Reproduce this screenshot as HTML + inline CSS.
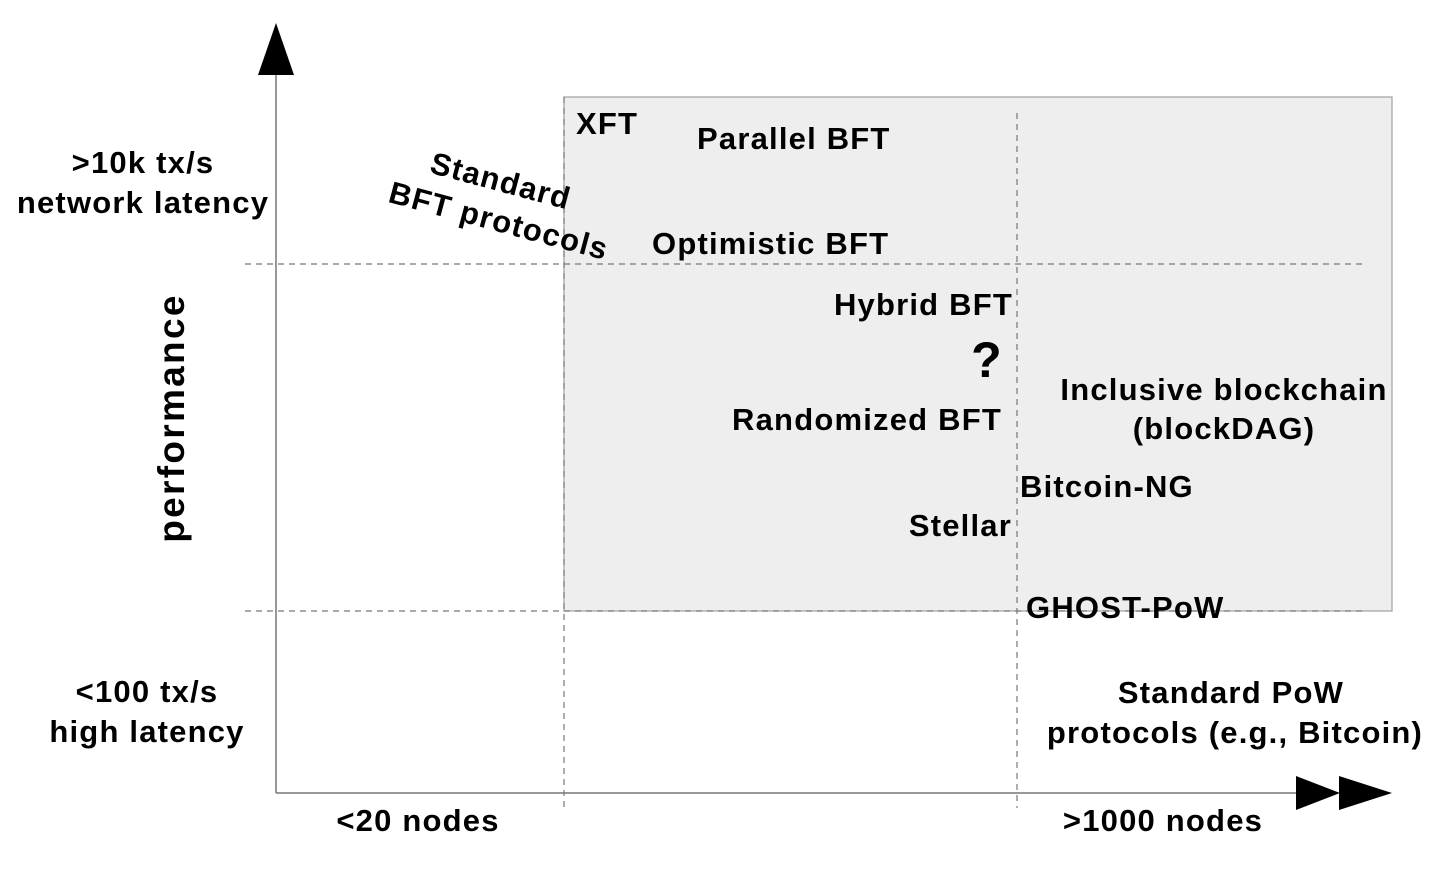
<!DOCTYPE html>
<html><head><meta charset="utf-8"><style>
html,body{margin:0;padding:0;background:#fff;}
svg{display:block;}
text{font-family:"Liberation Sans",Arial,sans-serif;font-weight:bold;font-size:31px;letter-spacing:1.2px;fill:#000;}
</style></head><body>
<svg width="1451" height="881" viewBox="0 0 1451 881" xmlns="http://www.w3.org/2000/svg">
<rect x="564" y="97" width="828" height="514" fill="#eeeeee" stroke="#a0a0a0" stroke-width="1.2"/>
<g stroke="#777" stroke-width="1.2" stroke-dasharray="6,5" fill="none">
<line x1="245" y1="264" x2="1366" y2="264"/>
<line x1="245" y1="611" x2="1366" y2="611"/>
<line x1="564" y1="97" x2="564" y2="808"/>
<line x1="1017" y1="113" x2="1017" y2="808"/>
</g>
<line x1="276" y1="75" x2="276" y2="793" stroke="#777" stroke-width="1.5"/>
<line x1="276" y1="793" x2="1300" y2="793" stroke="#777" stroke-width="1.5"/>
<polygon points="276,23 294,75 258,75" fill="#000"/>
<polygon points="1296,776 1340,793 1296,810" fill="#000"/>
<polygon points="1339,776 1392,793 1339,810" fill="#000"/>
<text x="143" y="173" text-anchor="middle">&gt;10k tx/s</text>
<text x="143" y="213" text-anchor="middle">network latency</text>
<text x="147" y="702" text-anchor="middle">&lt;100 tx/s</text>
<text x="147" y="742" text-anchor="middle">high latency</text>
<text transform="translate(184,418) rotate(-90)" text-anchor="middle" style="font-size:37px;letter-spacing:2.3px">performance</text>
<text x="418" y="831" text-anchor="middle">&lt;20 nodes</text>
<text x="1163" y="831" text-anchor="middle">&gt;1000 nodes</text>
<text transform="translate(498,191) rotate(15)" text-anchor="middle">Standard</text>
<text transform="translate(496,231) rotate(15)" text-anchor="middle">BFT protocols</text>
<text x="576" y="134">XFT</text>
<text x="697" y="149">Parallel BFT</text>
<text x="652" y="254">Optimistic BFT</text>
<text x="1013" y="315" text-anchor="end">Hybrid BFT</text>
<text x="987" y="377" text-anchor="middle" style="font-size:50px">?</text>
<text x="1002" y="430" text-anchor="end">Randomized BFT</text>
<text x="1224" y="400" text-anchor="middle">Inclusive blockchain</text>
<text x="1224" y="439" text-anchor="middle">(blockDAG)</text>
<text x="1020" y="497">Bitcoin-NG</text>
<text x="1012" y="536" text-anchor="end">Stellar</text>
<text x="1026" y="618">GHOST-PoW</text>
<text x="1231" y="703" text-anchor="middle">Standard PoW</text>
<text x="1235" y="743" text-anchor="middle">protocols (e.g., Bitcoin)</text>
</svg>
</body></html>
